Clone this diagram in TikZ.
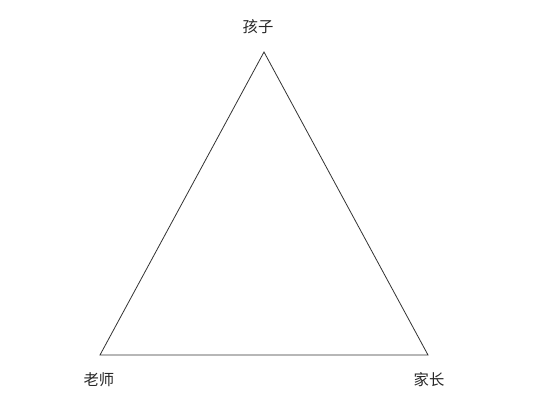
\documentclass[tikz,border=0pt]{standalone}
\usepackage{fontspec}
\newfontfamily\cjk{Noto Sans CJK SC}
\begin{document}
\begin{tikzpicture}[x=0.75pt,y=-0.75pt,
  lbl/.style={font=\cjk\fontsize{11.5}{13}\selectfont, inner sep=0pt, text=black!85},
  edge/.style={draw=black!80, line width=0.6pt}]
\useasboundingbox[fill=white] (0,0) rectangle (547,403);
\coordinate (c) at (264,52);
\coordinate (t) at (100,355);
\coordinate (p) at (428,355);
\draw[edge] (c) -- (t) -- (p) -- cycle;
\node[lbl] (lc) at (258,27) {孩子};
\node[lbl] (lt) at (99,380) {老师};
\node[lbl] (lp) at (429,380) {家长};
\end{tikzpicture}
\end{document}
